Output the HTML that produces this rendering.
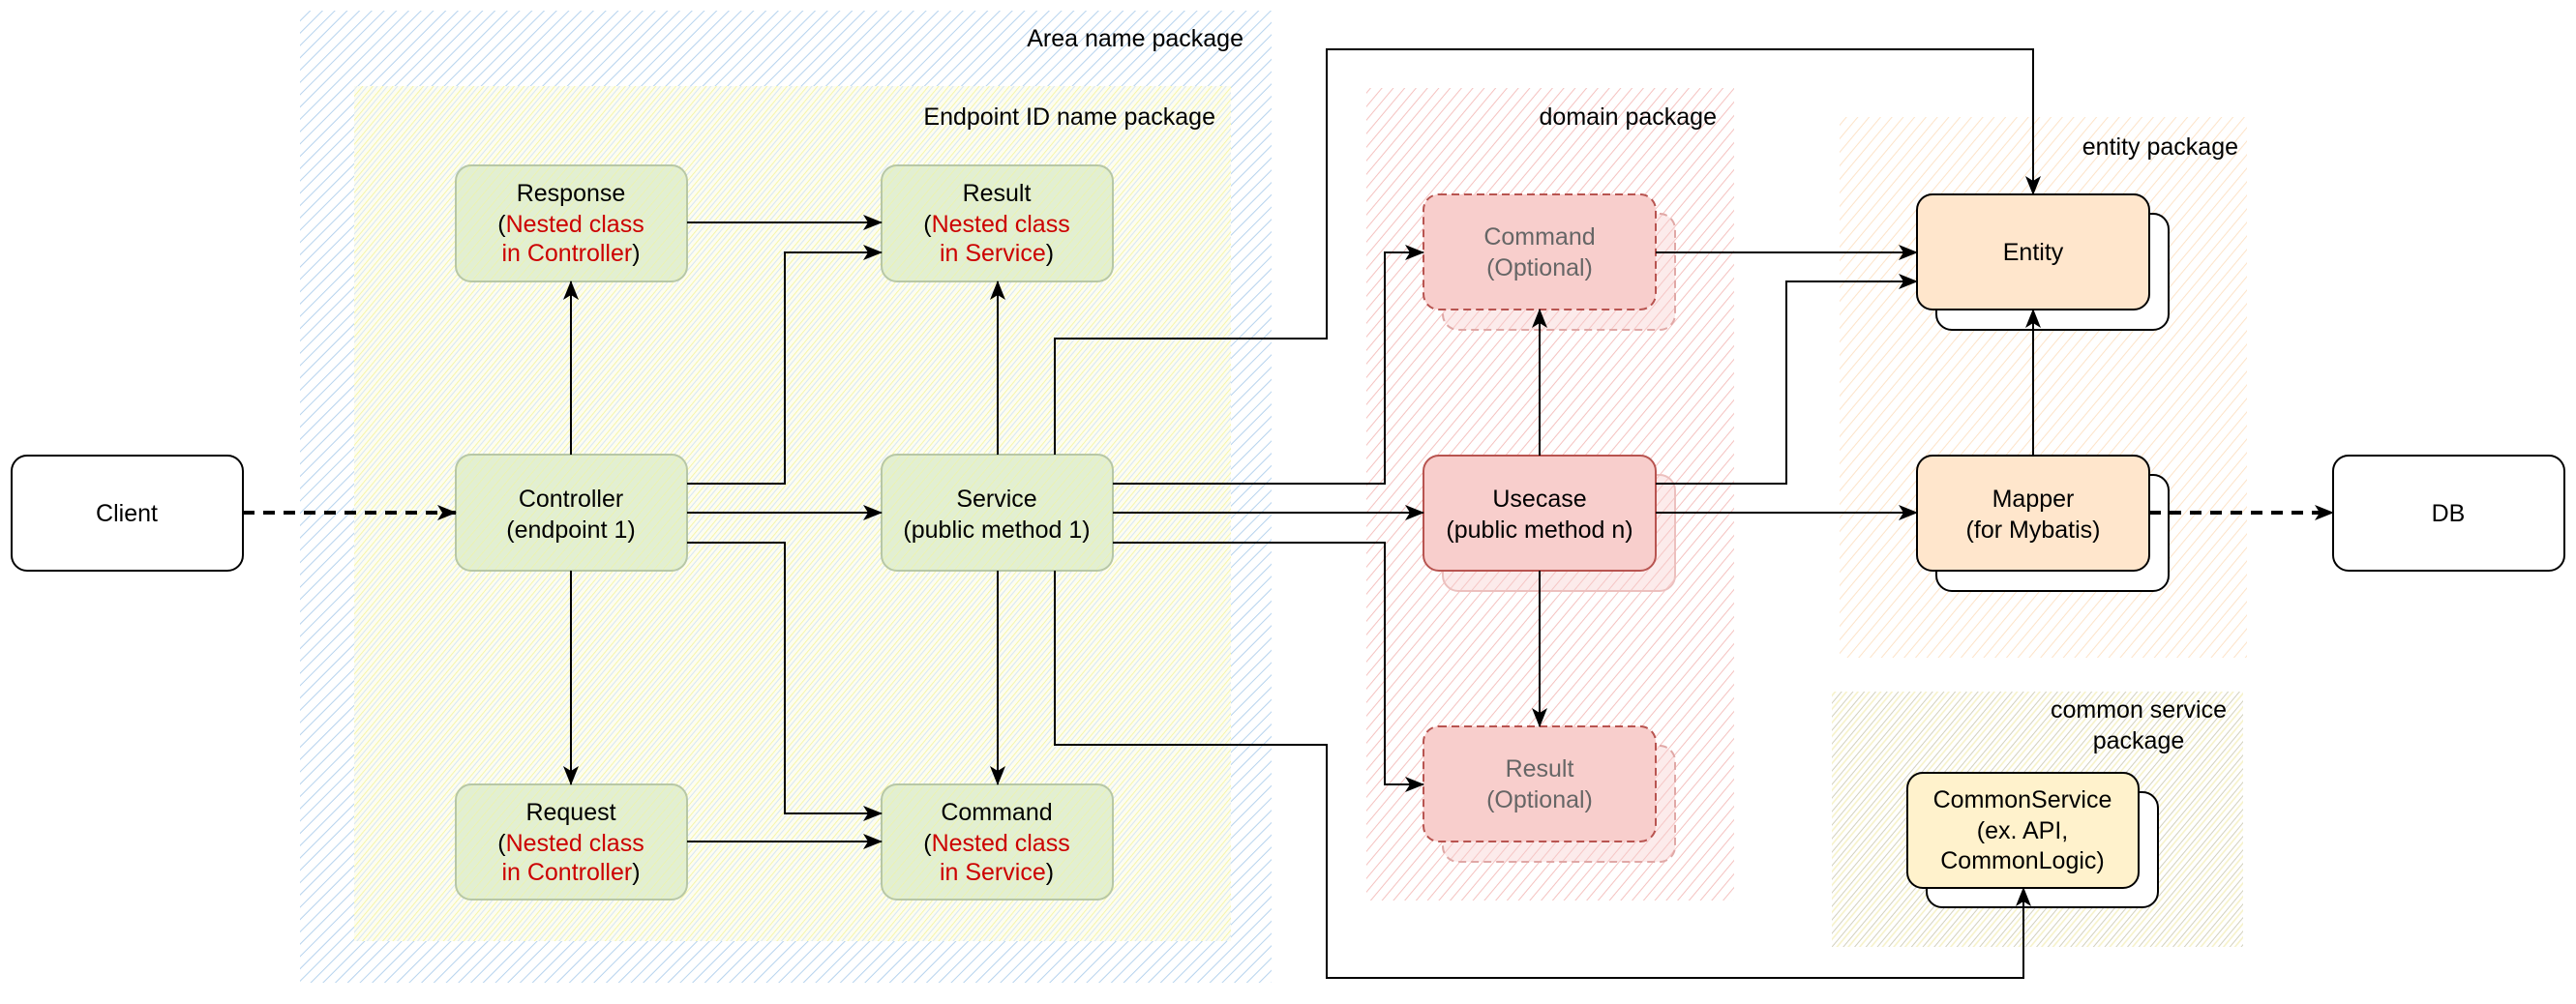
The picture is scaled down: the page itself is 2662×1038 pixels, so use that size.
<!DOCTYPE html>
<html><head><meta charset="utf-8"><style>
html,body{margin:0;padding:0;background:#fff;}
svg{display:block;}
text{font-family:"Liberation Sans",Arial,sans-serif;font-size:25px;}
</style></head><body>
<svg width="2662" height="1038" viewBox="0 0 2662 1038" xmlns="http://www.w3.org/2000/svg">
<defs>
<pattern id="hb" width="9" height="9" patternUnits="userSpaceOnUse" patternTransform="rotate(45)"><rect width="9" height="9" fill="#fff"/><line x1="0" y1="0" x2="0" y2="9" stroke="#b6d3ee" stroke-width="2"/></pattern>
<pattern id="hy" width="8" height="8" patternUnits="userSpaceOnUse" patternTransform="rotate(40)"><rect width="8" height="8" fill="#fdfdf0"/><line x1="0" y1="0" x2="0" y2="8" stroke="#f3f39a" stroke-width="1.6"/><line x1="4" y1="0" x2="4" y2="8" stroke="#d6e6f3" stroke-width="1"/></pattern>
<pattern id="hr" width="9" height="9" patternUnits="userSpaceOnUse" patternTransform="rotate(40)"><rect width="9" height="9" fill="#fff"/><line x1="0" y1="0" x2="0" y2="9" stroke="#f5c2c0" stroke-width="2"/></pattern>
<pattern id="ho" width="9" height="9" patternUnits="userSpaceOnUse" patternTransform="rotate(40)"><rect width="9" height="9" fill="#fff"/><line x1="0" y1="0" x2="0" y2="9" stroke="#fde3c8" stroke-width="2"/></pattern>
<pattern id="hg" width="9" height="9" patternUnits="userSpaceOnUse" patternTransform="rotate(40)"><rect width="9" height="9" fill="#fff"/><line x1="0" y1="0" x2="0" y2="9" stroke="#d3d1bd" stroke-width="2"/><line x1="4.5" y1="0" x2="4.5" y2="9" stroke="#f6f1c6" stroke-width="1.5"/></pattern>
<pattern id="hgr" width="7" height="7" patternUnits="userSpaceOnUse" patternTransform="rotate(40)"><rect width="7" height="7" fill="#e2efd2"/><line x1="0" y1="0" x2="0" y2="7" stroke="#eef3a8" stroke-width="1.5"/></pattern>
<marker id="a" viewBox="0 0 20 20" refX="19" refY="10" markerWidth="20" markerHeight="20" markerUnits="userSpaceOnUse" orient="auto"><path d="M0,2 L20,10 L0,18 L5,10 Z" fill="#000"/></marker>
</defs>

<rect x="310" y="11" width="1004" height="1005" fill="url(#hb)"/>
<text x="1285" y="48" text-anchor="end">Area name package</text>
<rect x="366" y="89" width="906" height="884" fill="url(#hy)"/>
<text x="1256" y="129" text-anchor="end">Endpoint ID name package</text>
<rect x="1412" y="91" width="380" height="840" fill="url(#hr)"/>
<text x="1774" y="129" text-anchor="end">domain package</text>
<rect x="1901" y="121" width="421" height="559" fill="url(#ho)"/>
<text x="2313" y="160" text-anchor="end">entity package</text>
<rect x="1893" y="715" width="425" height="264" fill="url(#hg)"/>
<text x="2210" y="742" text-anchor="middle">common service</text>
<text x="2210" y="774" text-anchor="middle">package</text>

<g stroke="#b7c7a6" stroke-width="2" fill="url(#hgr)">
<rect x="471" y="171" width="239" height="120" rx="16"/>
<rect x="911" y="171" width="239" height="120" rx="16"/>
<rect x="471" y="470" width="239" height="120" rx="16"/>
<rect x="911" y="470" width="239" height="120" rx="16"/>
<rect x="471" y="811" width="239" height="119" rx="16"/>
<rect x="911" y="811" width="239" height="119" rx="16"/>
</g>
<g text-anchor="middle">
<text x="590" y="208">Response</text>
<text x="590" y="240">(<tspan fill="#cc0000">Nested class</tspan></text>
<text x="590" y="270"><tspan fill="#cc0000">in Controller</tspan>)</text>
<text x="1030" y="208">Result</text>
<text x="1030" y="240">(<tspan fill="#cc0000">Nested class</tspan></text>
<text x="1030" y="270"><tspan fill="#cc0000">in Service</tspan>)</text>
<text x="590" y="524">Controller</text>
<text x="590" y="556">(endpoint 1)</text>
<text x="1030" y="524">Service</text>
<text x="1030" y="556">(public method 1)</text>
<text x="590" y="848">Request</text>
<text x="590" y="880">(<tspan fill="#cc0000">Nested class</tspan></text>
<text x="590" y="910"><tspan fill="#cc0000">in Controller</tspan>)</text>
<text x="1030" y="848">Command</text>
<text x="1030" y="880">(<tspan fill="#cc0000">Nested class</tspan></text>
<text x="1030" y="910"><tspan fill="#cc0000">in Service</tspan>)</text>
</g>

<rect x="12" y="471" width="239" height="119" rx="16" fill="#fff" stroke="#000" stroke-width="2"/>
<text x="131" y="539" text-anchor="middle">Client</text>
<rect x="2411" y="471" width="239" height="119" rx="16" fill="#fff" stroke="#000" stroke-width="2"/>
<text x="2530" y="539" text-anchor="middle">DB</text>

<g fill="#f8cecc" fill-opacity="0.4" stroke="#e0a8a6" stroke-width="2" stroke-dasharray="8 5">
<rect x="1491" y="221" width="240" height="120" rx="16"/>
<rect x="1491" y="771" width="240" height="120" rx="16"/>
</g>
<rect x="1491" y="491" width="240" height="120" rx="16" fill="#f8cecc" fill-opacity="0.4" stroke="#ecc0be" stroke-width="2"/>
<g fill="#f8cecc" stroke="#b85450" stroke-width="2" stroke-dasharray="8 5">
<rect x="1471" y="201" width="240" height="119" rx="16"/>
<rect x="1471" y="751" width="240" height="119" rx="16"/>
</g>
<rect x="1471" y="471" width="240" height="119" rx="16" fill="#f8cecc" stroke="#b85450" stroke-width="2"/>
<g text-anchor="middle">
<text x="1591" y="253" fill="#666">Command</text>
<text x="1591" y="285" fill="#666">(Optional)</text>
<text x="1591" y="524">Usecase</text>
<text x="1591" y="556">(public method n)</text>
<text x="1591" y="803" fill="#666">Result</text>
<text x="1591" y="835" fill="#666">(Optional)</text>
</g>

<g fill="#fff" stroke="#000" stroke-width="2">
<rect x="2001" y="221" width="240" height="120" rx="16"/>
<rect x="2001" y="491" width="240" height="120" rx="16"/>
<rect x="1991" y="819" width="239" height="119" rx="16"/>
</g>
<g stroke="#000" stroke-width="2">
<rect x="1981" y="201" width="240" height="119" rx="16" fill="#ffe6cc"/>
<rect x="1981" y="471" width="240" height="119" rx="16" fill="#ffe6cc"/>
<rect x="1971" y="799" width="239" height="119" rx="16" fill="#fff2cc"/>
</g>
<g text-anchor="middle">
<text x="2101" y="269">Entity</text>
<text x="2101" y="524">Mapper</text>
<text x="2101" y="556">(for Mybatis)</text>
<text x="2090" y="835">CommonService</text>
<text x="2090" y="867">(ex. API,</text>
<text x="2090" y="898">CommonLogic)</text>
</g>

<g fill="none" stroke="#000" stroke-width="2" marker-end="url(#a)">
<path d="M251,530 H471" stroke-width="4" stroke-dasharray="12 9"/>
<path d="M2221,530 H2411" stroke-width="4" stroke-dasharray="12 9"/>
<path d="M710,230 H911"/>
<path d="M710,500 H811 V261 H911"/>
<path d="M710,530 H911"/>
<path d="M710,561 H811 V841 H911"/>
<path d="M710,870 H911"/>
<path d="M590,470 V291"/>
<path d="M590,590 V811"/>
<path d="M1031,470 V291"/>
<path d="M1031,590 V811"/>
<path d="M1090,470 V350 H1371 V51 H2101 V201"/>
<path d="M1090,590 V770 H1371 V1011 H2091 V918"/>
<path d="M1150,500 H1431 V261 H1471"/>
<path d="M1150,530 H1471"/>
<path d="M1150,561 H1431 V811 H1471"/>
<path d="M1591,471 V320"/>
<path d="M1591,590 V751"/>
<path d="M1711,261 H1981"/>
<path d="M1711,500 H1846 V291 H1981"/>
<path d="M1711,530 H1981"/>
<path d="M2101,471 V320"/>
</g>
</svg>
</body></html>
